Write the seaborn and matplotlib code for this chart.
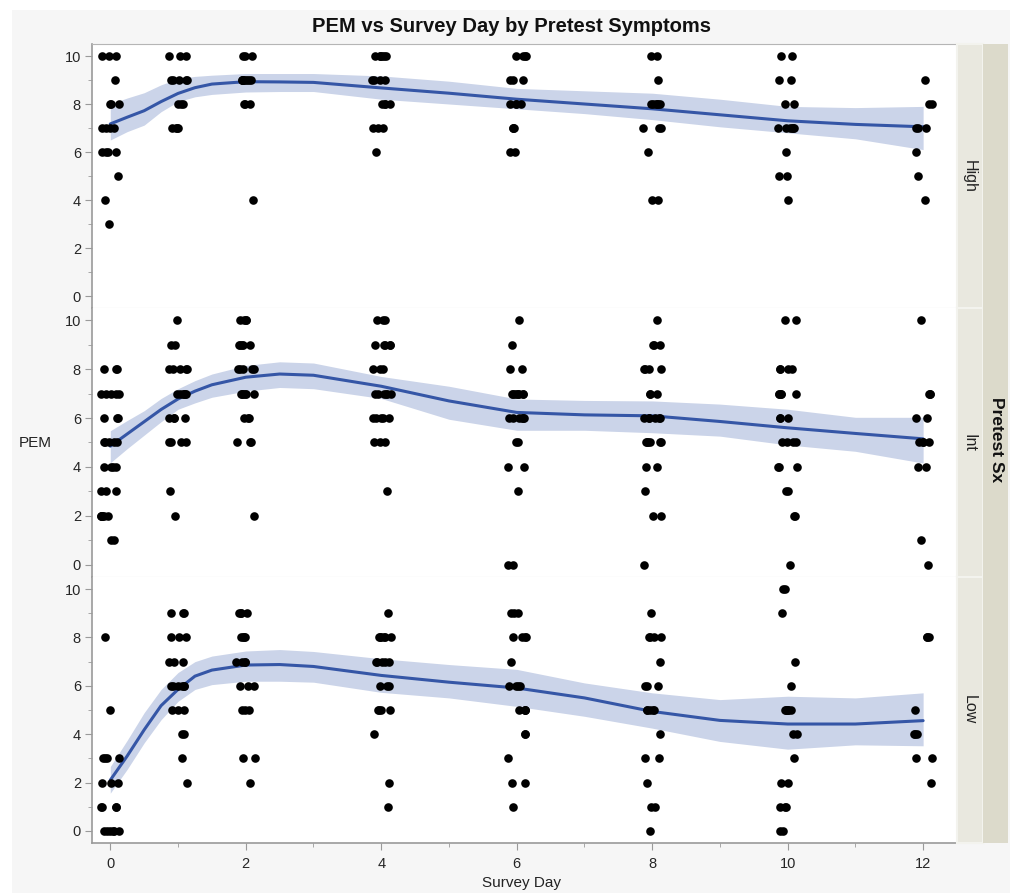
import numpy as np
import pandas as pd
import matplotlib
matplotlib.use("Agg")
import matplotlib.pyplot as plt
import seaborn as sns
from matplotlib.patches import Rectangle
from matplotlib.ticker import MultipleLocator

# --- data ---
DAYS = [0, 1, 2, 4, 6, 8, 10, 12]
GROUPS = ["High", "Int", "Low"]

# PEM values per survey day, one list per day in DAYS order
HIGH_PEM = [
    [10, 10, 10, 9, 8, 8, 8, 7, 7, 7, 7, 6, 6, 6, 6, 5, 4, 3],
    [10, 10, 10, 9, 9, 9, 9, 9, 8, 8, 8, 7, 7, 7, 7],
    [10, 10, 10, 9, 9, 9, 9, 9, 9, 9, 9, 8, 8, 8, 4],
    [10, 10, 10, 10, 10, 10, 9, 9, 9, 9, 8, 8, 8, 8, 7, 7, 7, 6],
    [10, 10, 10, 10, 9, 9, 9, 8, 8, 8, 8, 7, 7, 7, 6, 6],
    [10, 10, 9, 8, 8, 8, 8, 8, 8, 7, 7, 7, 6, 4, 4],
    [10, 10, 9, 9, 8, 8, 7, 7, 7, 7, 7, 7, 6, 5, 5, 4],
    [9, 8, 8, 7, 7, 7, 6, 5, 4],
]
INT_PEM = [
    [8, 8, 8, 7, 7, 7, 7, 7, 6, 6, 6, 5, 5, 5, 5, 5, 4, 4, 4, 4, 3, 3, 3, 2, 2, 2, 2, 2, 2, 1, 1],
    [10, 9, 9, 8, 8, 8, 8, 8, 7, 7, 7, 7, 7, 7, 6, 6, 6, 6, 5, 5, 5, 5, 3, 2],
    [10, 10, 10, 10, 9, 9, 9, 9, 9, 8, 8, 8, 8, 8, 7, 7, 7, 7, 7, 7, 6, 6, 6, 5, 5, 5, 2],
    [10, 10, 10, 9, 9, 9, 9, 9, 8, 8, 8, 7, 7, 7, 7, 7, 7, 6, 6, 6, 6, 6, 5, 5, 5, 3],
    [10, 9, 8, 8, 7, 7, 7, 7, 7, 7, 7, 7, 6, 6, 6, 6, 6, 6, 5, 5, 4, 4, 3, 0, 0],
    [10, 9, 9, 9, 8, 8, 8, 8, 7, 7, 7, 6, 6, 6, 6, 6, 6, 5, 5, 5, 5, 5, 5, 4, 4, 3, 2, 2, 0],
    [10, 10, 8, 8, 8, 8, 7, 7, 7, 7, 7, 6, 6, 6, 5, 5, 5, 5, 4, 4, 4, 3, 3, 2, 2, 0],
    [10, 7, 7, 7, 6, 6, 5, 5, 5, 5, 4, 4, 1, 0],
]
LOW_PEM = [
    [8, 5, 3, 3, 3, 3, 2, 2, 2, 1, 1, 1, 1, 0, 0, 0, 0, 0, 0],
    [9, 9, 9, 8, 8, 8, 7, 7, 7, 6, 6, 6, 6, 6, 6, 5, 5, 5, 4, 4, 3, 2],
    [9, 9, 9, 9, 8, 8, 8, 8, 7, 7, 7, 7, 6, 6, 6, 5, 5, 5, 3, 3, 2],
    [9, 8, 8, 8, 8, 8, 8, 7, 7, 7, 7, 7, 6, 6, 6, 5, 5, 5, 5, 4, 2, 1],
    [9, 9, 9, 8, 8, 8, 8, 7, 6, 6, 6, 6, 5, 5, 5, 5, 4, 4, 3, 2, 2, 1],
    [9, 8, 8, 8, 8, 7, 6, 6, 6, 5, 5, 5, 5, 5, 4, 3, 3, 2, 1, 1, 0],
    [10, 10, 9, 7, 6, 5, 5, 5, 5, 5, 5, 4, 4, 3, 2, 2, 1, 1, 1, 0, 0],
    [8, 8, 8, 5, 4, 4, 4, 3, 3, 2],
]

# smoother fit and its confidence band
FIT_X = [0, 0.25, 0.5, 0.75, 1, 1.25, 1.5, 2, 2.5, 3, 4, 5, 6, 7, 8, 9, 10, 11, 12]
HIGH_FIT = [7.17, 7.45, 7.72, 8.1, 8.44, 8.68, 8.83, 8.93, 8.92, 8.9, 8.67, 8.45, 8.2, 8.0, 7.8, 7.55, 7.3, 7.15, 7.05]
HIGH_LO = [6.5, 6.85, 7.12, 7.68, 8.1, 8.3, 8.4, 8.5, 8.52, 8.52, 8.2, 8.0, 7.8, 7.6, 7.35, 7.05, 6.8, 6.55, 6.1]
HIGH_HI = [8.0, 8.25, 8.47, 8.8, 9.05, 9.15, 9.2, 9.27, 9.27, 9.27, 9.17, 8.95, 8.65, 8.55, 8.45, 8.2, 7.9, 7.85, 7.9]
INT_FIT = [4.85, 5.35, 5.85, 6.35, 6.78, 7.1, 7.36, 7.67, 7.8, 7.75, 7.3, 6.7, 6.23, 6.13, 6.09, 5.86, 5.6, 5.37, 5.15]
INT_LO = [4.17, 4.75, 5.3, 5.85, 6.36, 6.62, 6.85, 7.1, 7.25, 7.2, 6.8, 5.95, 5.5, 5.5, 5.4, 5.26, 4.9, 4.64, 4.16]
INT_HI = [5.48, 5.9, 6.3, 6.8, 7.2, 7.53, 7.8, 8.15, 8.3, 8.25, 7.7, 7.3, 6.78, 6.72, 6.7, 6.57, 6.36, 6.03, 6.03]
LOW_FIT = [2.1, 3.1, 4.18, 5.18, 5.85, 6.4, 6.65, 6.86, 6.88, 6.8, 6.43, 6.15, 5.91, 5.5, 4.94, 4.57, 4.42, 4.42, 4.56]
LOW_LO = [1.56, 2.55, 3.64, 4.6, 5.36, 5.85, 6.05, 6.19, 6.19, 6.15, 5.73, 5.5, 5.15, 4.74, 4.25, 3.7, 3.38, 3.56, 3.52]
LOW_HI = [2.66, 3.75, 4.89, 5.85, 6.55, 7.0, 7.23, 7.44, 7.5, 7.42, 7.12, 6.88, 6.68, 6.12, 5.71, 5.43, 5.57, 5.5, 5.71]

PANELS = [
    ("High", HIGH_PEM, HIGH_FIT, HIGH_LO, HIGH_HI),
    ("Int", INT_PEM, INT_FIT, INT_LO, INT_HI),
    ("Low", LOW_PEM, LOW_FIT, LOW_LO, LOW_HI),
]

LINE_BLUE = "#3556a6"
BAND_BLUE = "#cbd4e9"
AXIS_GRAY = "#9a9a9a"

sns.set_style("white")
plt.rcParams["font.family"] = ["Liberation Sans", "DejaVu Sans"]
np.random.seed(7)

W, H = 1016, 893
fig = plt.figure(figsize=(W / 100, H / 100), dpi=100)


def fx(px):
    return px / W


def fy(py):
    return 1 - py / H


# light gray frame behind everything
fig.patches.append(Rectangle((fx(12), 0), fx(1010) - fx(12), fy(10), transform=fig.transFigure,
                             facecolor="#f6f6f6", edgecolor="none", zorder=-5))

left, right = 92, 957
bounds = [(44, 308), (308, 577), (577, 843)]

for i, (name, pem, fit, lo, hi) in enumerate(PANELS):
    top, bot = bounds[i]
    ax = fig.add_axes([fx(left), fy(bot), fx(right) - fx(left), fy(top) - fy(bot)])
    ax.set_facecolor("white")

    rows = []
    for d, vals in zip(DAYS, pem):
        for v in vals:
            rows.append({"day": d, "pem": v})
    df = pd.DataFrame(rows)

    ax.fill_between(FIT_X, lo, hi, color=BAND_BLUE, lw=0, zorder=1)
    sns.stripplot(data=df, x="day", y="pem", native_scale=True, orient="x", jitter=0.14,
                  color="black", size=6.2, linewidth=0, ax=ax, zorder=3)
    sns.lineplot(x=FIT_X, y=fit, color=LINE_BLUE, lw=2.2, ax=ax, zorder=2)

    ax.set_xlim(-0.27, 12.5)
    ax.set_ylim(-0.5, 10.5)
    ax.set_xlabel("")
    ax.set_ylabel("")
    ax.yaxis.set_major_locator(MultipleLocator(2))
    ax.yaxis.set_minor_locator(MultipleLocator(1))
    ax.xaxis.set_major_locator(MultipleLocator(2))
    ax.xaxis.set_minor_locator(MultipleLocator(1))
    ax.tick_params(axis="y", which="major", length=5, color=AXIS_GRAY, labelsize=10.5, pad=3, left=True)
    ax.tick_params(axis="y", which="minor", length=3, color=AXIS_GRAY, left=True)
    ax.tick_params(axis="x", which="major", length=5, color=AXIS_GRAY, labelsize=10.5, pad=5, bottom=True)
    ax.tick_params(axis="x", which="minor", length=3, color=AXIS_GRAY, bottom=True)
    if i < 2:
        ax.tick_params(axis="x", which="both", bottom=False, labelbottom=False)

    for side in ["top", "bottom", "left", "right"]:
        ax.spines[side].set_visible(False)
    ax.spines["left"].set_visible(True)
    ax.spines["left"].set_color(AXIS_GRAY)
    ax.spines["left"].set_linewidth(1.2)
    if i == 0:
        ax.spines["top"].set_visible(True)
        ax.spines["top"].set_color("#b5b5b5")
    ax.spines["bottom"].set_visible(True)
    if i == 2:
        ax.spines["bottom"].set_color(AXIS_GRAY)
        ax.spines["bottom"].set_linewidth(1.2)
    else:
        ax.spines["bottom"].set_color("#d6d6d6")

    # group strip on the right
    fig.patches.append(Rectangle((fx(957), fy(bot)), fx(983) - fx(957), fy(top) - fy(bot),
                                 transform=fig.transFigure, facecolor="#e9e8df",
                                 edgecolor="#f3f3ee", lw=1.5, zorder=1))
    fig.text(fx(969), fy((top + bot) / 2), name, rotation=-90, ha="center", va="center",
             fontsize=11.5, color="#222222")

# outer strip
fig.patches.append(Rectangle((fx(983), fy(843)), fx(1008) - fx(983), fy(44) - fy(843),
                             transform=fig.transFigure, facecolor="#dcdacb",
                             edgecolor="none", zorder=1))
fig.text(fx(996), fy(440), "Pretest Sx", rotation=-90, ha="center", va="center",
         fontsize=12.5, fontweight="bold", color="#111111")

fig.text(fx(512), fy(27), "PEM vs Survey Day by Pretest Symptoms", ha="center", va="center",
         fontsize=14.5, fontweight="bold", color="#111111")
fig.text(fx(35), fy(443), "PEM", ha="center", va="center", fontsize=11, color="#222222")
fig.text(fx(522), fy(883), "Survey Day", ha="center", va="center", fontsize=11, color="#222222")

fig.savefig("out.png", dpi=100, facecolor="white")
